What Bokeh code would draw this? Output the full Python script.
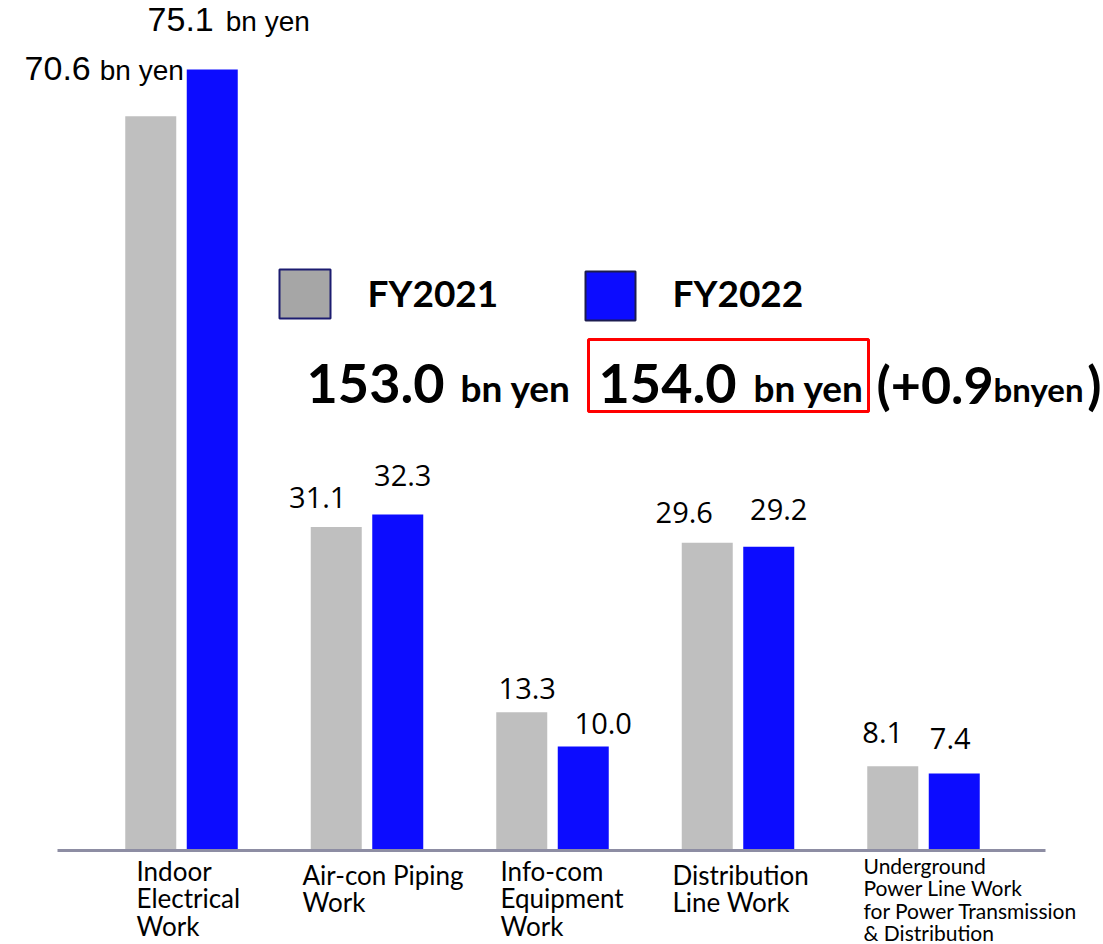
from bokeh.plotting import figure
from bokeh.models import Range1d, ColumnDataSource
from bokeh.core.properties import value
from bokeh.embed import file_html
from bokeh.resources import INLINE

# ---- data -------------------------------------------------------------
categories = [
    "Indoor\nElectrical\nWork",
    "Air-con Piping\nWork",
    "Info-com\nEquipment\nWork",
    "Distribution\nLine Work",
    "Underground\nPower Line Work\nfor Power Transmission\n& Distribution",
]
fy2021 = [70.6, 31.1, 13.3, 29.6, 8.1]
fy2022 = [75.1, 32.3, 10.0, 29.2, 7.4]
series_names = ["FY2021", "FY2022"]
total_2021 = "153.0"
total_2022 = "154.0"
total_change = "+0.9"
unit = "bn yen"

# ---- layout -----------------------------------------------------------
W, H = 1103, 944
X0, XS = 181.0, 185.5   # pixel of the first group centre, pixels per group
Y0, YS = 850.0, 10.4    # baseline pixel, pixels per bn yen

GRAY = "#bfbfbf"
BLUE = "#0c0cff"


def dx(px):
    return (px - X0) / XS


def dy(py):
    return (Y0 - py) / YS


def lift(fs):
    # the text glyph sits a little below the requested alphabetic baseline
    return 4.7 + 0.265 * fs


p = figure(width=W, height=H,
           x_range=Range1d(dx(0), dx(W)), y_range=Range1d(dy(H), dy(0)),
           x_axis_type=None, y_axis_type=None,
           output_backend="svg", toolbar_location=None, min_border=0)
p.grid.visible = False
p.outline_line_color = None
p.background_fill_color = "white"
p.border_fill_color = "white"

idx = list(range(len(categories)))
OFF = 30.75 / XS
BW = 51.0 / XS
x21 = [i - OFF for i in idx]
x22 = [i + OFF for i in idx]

# bars
p.vbar(x=x21, top=fy2021, bottom=0, width=BW, fill_color=GRAY, line_color=None)
p.vbar(x=x22, top=fy2022, bottom=0, width=BW, fill_color=BLUE, line_color=None)

# category baseline
p.segment(x0=[dx(57)], y0=[0], x1=[dx(1045)], y1=[0],
          line_color="#8d8da3", line_width=3)

# ---- value labels ------------------------------------------------------
# largest category: number + unit
num_font = value("Liberation Sans")
big = ColumnDataSource(dict(x=[x21[0], x22[0]], y=[fy2021[0], fy2022[0]],
                            t=[f"{fy2021[0]:.1f}", f"{fy2022[0]:.1f}"],
                            xo=[-60, 1.5], yo=[-34 - lift(34), -36 - lift(34)]))
p.text(x="x", y="y", text="t", x_offset="xo", y_offset="yo", source=big,
       text_font=num_font, text_font_size="34px", text_align="right",
       text_baseline="alphabetic", text_color="black")
big_u = ColumnDataSource(dict(x=[x21[0], x22[0]], y=[fy2021[0], fy2022[0]],
                              t=[unit, unit], xo=[-51, 13.5],
                              yo=[-34 - lift(28), -36 - lift(28)]))
p.text(x="x", y="y", text="t", x_offset="xo", y_offset="yo", source=big_u,
       text_font=num_font, text_font_size="28px", text_align="left",
       text_baseline="alphabetic", text_color="black")

# remaining categories: plain numbers
lab21_dx = [-18.5, 5.5, -23, -10]
lab21_dy = [19, 13, 20, 23]
lab22_dx = [5, 20, 10, -4]
lab22_dy = [29, 13, 27, 25]
small = ColumnDataSource(dict(
    x=x21[1:] + x22[1:],
    y=fy2021[1:] + fy2022[1:],
    t=[f"{v:.1f}" for v in fy2021[1:] + fy2022[1:]],
    xo=lab21_dx + lab22_dx,
    yo=[-d - lift(29) + 2 for d in lab21_dy + lab22_dy],
))
p.text(x="x", y="y", text="t", x_offset="xo", y_offset="yo", source=small,
       text_font=value("Open Sans"), text_font_size="29px", text_align="center",
       text_baseline="alphabetic", text_color="black")

# ---- category labels ---------------------------------------------------
cat_dx = [-45, -64.5, -52, -65.5, -60]
cat_base = [882, 886, 882, 886, 875]
cat_lh = [27.5, 27.5, 27.5, 27.5, 22.5]
cat_fs = [26, 26, 26, 26, 21]
for i, name in enumerate(categories):
    lines = name.split("\n")
    src = ColumnDataSource(dict(
        x=[i] * len(lines), y=[0] * len(lines), t=lines,
        yo=[cat_base[i] - Y0 + k * cat_lh[i] - lift(cat_fs[i]) for k in range(len(lines))],
    ))
    p.text(x="x", y="y", text="t", y_offset="yo", x_offset=cat_dx[i], source=src,
           text_font=value("Lato"), text_font_size=f"{cat_fs[i]}px", text_align="left",
           text_baseline="alphabetic", text_color="black")

# ---- legend ------------------------------------------------------------
p.quad(left=[dx(279), dx(585)], right=[dx(330), dx(635)],
       top=[dy(269), dy(271)], bottom=[dy(318), dy(320)],
       fill_color=["#a6a6a6", BLUE], line_color=["#1c1c70", "#1c1c50"], line_width=2)
leg = ColumnDataSource(dict(x=[dx(367), dx(672)], y=[dy(307 - lift(37))] * 2, t=series_names))
p.text(x="x", y="y", text="t", source=leg, text_font=value("Lato"),
       text_font_style="bold", text_font_size="37px", text_align="left",
       text_baseline="alphabetic", text_color="black")

# ---- totals ------------------------------------------------------------
p.quad(left=[dx(588)], right=[dx(868)], top=[dy(339)], bottom=[dy(411)],
       fill_color=None, line_color="#ff0000", line_width=3)
tot_big = ColumnDataSource(dict(x=[dx(306), dx(598)], y=[dy(402 - lift(54))] * 2,
                                t=[total_2021, total_2022]))
p.text(x="x", y="y", text="t", source=tot_big, text_font=value("Lato"),
       text_font_style="bold", text_font_size="54px", text_align="left",
       text_baseline="alphabetic", text_color="black")
tot_unit = ColumnDataSource(dict(x=[dx(460), dx(753)], y=[dy(402 - lift(37))] * 2,
                                 t=[unit, unit]))
p.text(x="x", y="y", text="t", source=tot_unit, text_font=value("Lato"),
       text_font_style="bold", text_font_size="37px", text_align="left",
       text_baseline="alphabetic", text_color="black")

# change versus prior year, in parentheses
paren = ColumnDataSource(dict(x=[dx(876), dx(1101)], y=[dy(402 - lift(52))] * 2,
                              t=["(" + total_change, ")"], a=["left", "right"]))
p.text(x="x", y="y", text="t", text_align="a", source=paren, text_font=value("Lato"),
       text_font_style="bold", text_font_size="52px",
       text_baseline="alphabetic", text_color="black")
p.text(x=[dx(993)], y=[dy(402 - lift(33))], text=[unit.replace(" ", "")],
       text_font=value("Lato"), text_font_style="bold", text_font_size="33px",
       text_align="left", text_baseline="alphabetic", text_color="black")

open("out.html", "w").write(file_html(p, INLINE))
